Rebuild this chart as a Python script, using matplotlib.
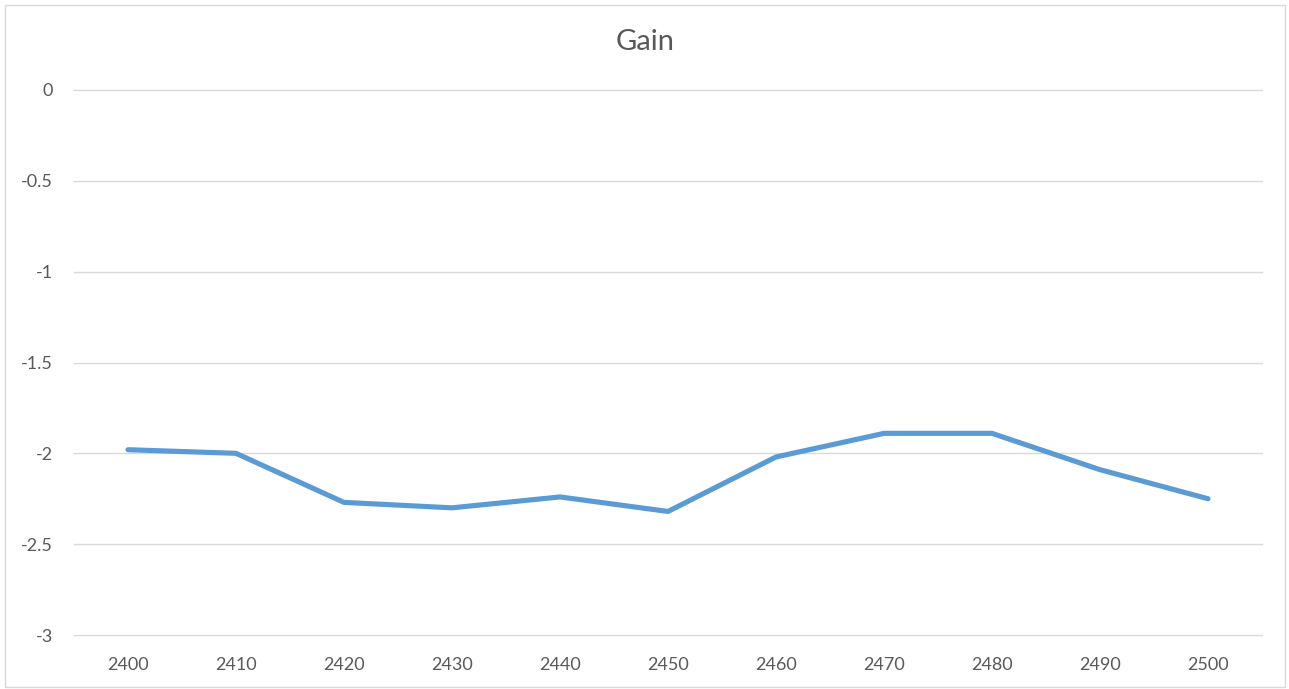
import matplotlib
matplotlib.use("Agg")
import matplotlib.pyplot as plt
from matplotlib.patches import Rectangle

categories = ["2400", "2410", "2420", "2430", "2440", "2450", "2460", "2470", "2480", "2490", "2500"]
gain = [-1.98, -2.00, -2.27, -2.30, -2.24, -2.32, -2.02, -1.89, -1.89, -2.09, -2.25]
yticks = [0, -0.5, -1, -1.5, -2, -2.5, -3]
ytick_labels = ["0", "-0.5", "-1", "-1.5", "-2", "-2.5", "-3"]

plt.rcParams['font.family'] = ['Lato', 'DejaVu Sans']
W, H = 1289, 689
fig = plt.figure(figsize=(W / 100, H / 100), dpi=100)
fig.patches.append(Rectangle((5 / W, 2 / H), 1280 / W, 682 / H, transform=fig.transFigure,
                             fill=False, edgecolor="#D9D9D9", linewidth=1))
ax = fig.add_axes([74 / W, 1 - 635 / H, (1262 - 74) / W, (635 - 90) / H])

x = list(range(len(categories)))
ax.plot(x, gain, color="#5B9BD5", linewidth=3.7, solid_capstyle="round", solid_joinstyle="round", zorder=3)

ax.set_xlim(-0.5, len(categories) - 0.5)
ax.set_ylim(-3, 0)
ax.set_xticks(x)
ax.set_xticklabels(categories)
ax.set_yticks(yticks)
ax.set_yticklabels(ytick_labels)
ax.grid(axis="y", color="#D9D9D9", linewidth=1)
for gl in ax.get_ygridlines():
    gl.set_clip_on(False)
ax.set_axisbelow(True)
for s in ax.spines.values():
    s.set_visible(False)
ax.tick_params(axis="both", length=0, colors="#595959", labelsize=13)
ax.tick_params(axis="y", pad=15)
ax.tick_params(axis="x", pad=16)

fig.text(645 / W, 1 - 42 / H, "Gain", ha="center", va="center", fontsize=21, color="#595959")

fig.savefig("out.png", dpi=100)
